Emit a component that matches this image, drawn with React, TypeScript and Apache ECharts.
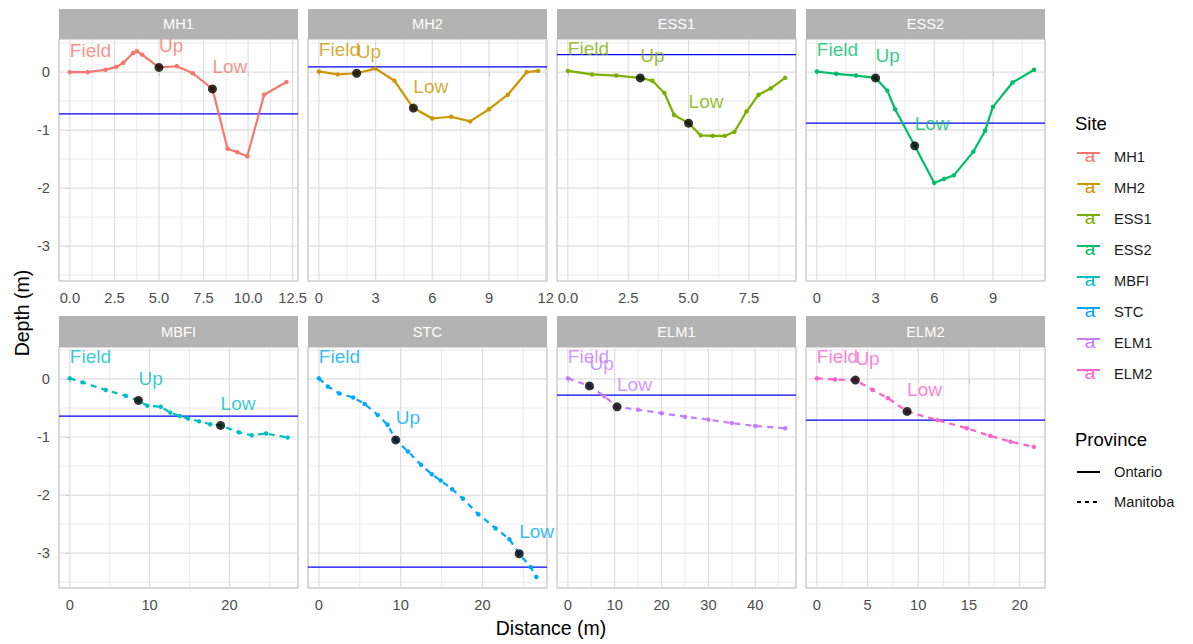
import React, { useEffect, useRef } from "react";
import * as echarts from "echarts";

const sites = ["MH1", "MH2", "ESS1", "ESS2", "MBFI", "STC", "ELM1", "ELM2"];
const province = ["Ontario", "Ontario", "Ontario", "Ontario", "Manitoba", "Manitoba", "Manitoba", "Manitoba"];
const provinces = ["Ontario", "Manitoba"];
const colors = ["#F8766D", "#CD9600", "#7CAE00", "#00BE67", "#00BFC4", "#00A9FF", "#C77CFF", "#FF61CC"];

const distMH1 = [0, 1, 2, 2.6, 3, 3.55, 3.75, 4.05, 5, 6, 6.9, 8, 8.85, 9.4, 9.95, 10.9, 12.15];
const depthMH1 = [0, 0, 0.04, 0.09, 0.16, 0.33, 0.36, 0.3, 0.08, 0.1, -0.02, -0.29, -1.32, -1.38, -1.45, -0.39, -0.17];
const distMH2 = [0, 1, 2, 3, 4, 5, 6, 7, 8, 9, 10, 11, 11.6];
const depthMH2 = [0.01, -0.04, -0.02, 0.06, -0.15, -0.62, -0.8, -0.77, -0.85, -0.64, -0.39, 0.0, 0.02];
const distESS1 = [0, 1, 2, 3, 3.5, 4, 4.4, 5, 5.5, 6, 6.5, 6.9, 7.4, 7.9, 8.4, 9];
const depthESS1 = [0.02, -0.04, -0.06, -0.1, -0.15, -0.36, -0.74, -0.88, -1.09, -1.1, -1.1, -1.03, -0.68, -0.39, -0.28, -0.1];
const distESS2 = [0, 1, 2, 3, 3.6, 4, 5, 6, 6.5, 7, 8, 8.6, 9, 10, 11.1];
const depthESS2 = [0.01, -0.03, -0.06, -0.1, -0.32, -0.64, -1.27, -1.91, -1.84, -1.78, -1.37, -1.01, -0.6, -0.18, 0.04];
const distMBFI = [0, 1.6, 4.5, 7, 8.6, 9.7, 11.4, 12.6, 13.8, 14.8, 16.2, 17.6, 18.9, 21.2, 22.8, 24.6, 27.3];
const depthMBFI = [0.01, -0.06, -0.19, -0.29, -0.37, -0.46, -0.48, -0.58, -0.64, -0.68, -0.73, -0.78, -0.8, -0.92, -0.97, -0.94, -1.01];
const distSTC = [0, 1.1, 2.5, 4.2, 5.6, 7.2, 8.4, 9.4, 10.9, 12.5, 13.8, 14.9, 16.3, 17.6, 19.5, 21.6, 23.3, 24.5, 25.9, 26.6];
const depthSTC = [0.01, -0.13, -0.25, -0.32, -0.43, -0.62, -0.79, -1.05, -1.25, -1.48, -1.64, -1.75, -1.9, -2.06, -2.33, -2.57, -2.76, -3.01, -3.24, -3.41];
const distELM1 = [0, 4.6, 7.8, 10.5, 15, 20, 25, 30, 35, 40, 46.4];
const depthELM1 = [0.01, -0.12, -0.3, -0.48, -0.53, -0.59, -0.65, -0.7, -0.76, -0.81, -0.85];
const distELM2 = [0, 1.8, 3.8, 5.5, 7, 8.9, 11.9, 14.8, 17.1, 19.1, 21.4];
const depthELM2 = [0.01, -0.01, -0.02, -0.19, -0.33, -0.56, -0.71, -0.85, -0.98, -1.08, -1.17];

const dists = [distMH1, distMH2, distESS1, distESS2, distMBFI, distSTC, distELM1, distELM2];
const depths = [depthMH1, depthMH2, depthESS1, depthESS2, depthMBFI, depthSTC, depthELM1, depthELM2];

const waterLevel = [-0.72, 0.09, 0.3, -0.88, -0.64, -3.24, -0.28, -0.71];
const upDist = [5, 2, 3, 3, 8.6, 9.4, 4.6, 3.8];
const upDepth = [0.08, -0.02, -0.1, -0.1, -0.37, -1.05, -0.12, -0.02];
const lowDist = [8, 5, 5, 5, 18.9, 24.5, 10.5, 8.9];
const lowDepth = [-0.29, -0.62, -0.88, -1.27, -0.8, -3.01, -0.48, -0.56];
const pointNames = ["Field", "Up", "Low"];

const xMin = [-0.61, -0.575, -0.45, -0.555, -1.36, -1.33, -2.32, -1.07];
const xMax = [12.8, 12.07, 9.45, 11.66, 28.6, 27.9, 48.7, 22.5];
const xMajor = [
  [0, 2.5, 5, 7.5, 10, 12.5],
  [0, 3, 6, 9, 12],
  [0, 2.5, 5, 7.5],
  [0, 3, 6, 9],
  [0, 10, 20],
  [0, 10, 20],
  [0, 10, 20, 30, 40],
  [0, 5, 10, 15, 20],
];
const xMinor = [
  [1.25, 3.75, 6.25, 8.75, 11.25],
  [1.5, 4.5, 7.5, 10.5],
  [1.25, 3.75, 6.25, 8.75],
  [1.5, 4.5, 7.5, 10.5],
  [5, 15, 25],
  [5, 15, 25],
  [5, 15, 25, 35, 45],
  [2.5, 7.5, 12.5, 17.5],
];
const xDecimals = [1, 0, 1, 0, 0, 0, 0, 0];
const yMajor = [0, -1, -2, -3];
const yMinor = [0.5, -0.5, -1.5, -2.5, -3.5];
const yMin = -3.6;
const yMaxRow = [0.57, 0.55];

const FONT = "'Liberation Sans', Arial, Helvetica, sans-serif";
const colLeft = [59, 308, 557, 806];
const panelW = 239;
const rowTop = [39, 347];
const rowH = [242, 241];
const stripTop = [9, 316];
const stripH = [30, 31];

function gridSegments(xs: number[], ys: number[], x0: number, x1: number, y0: number, y1: number) {
  const out: any[] = [];
  xs.forEach((x) => {
    out.push([x, y0], [x, y1], ["-", "-"]);
  });
  ys.forEach((y) => {
    out.push([x0, y], [x1, y], ["-", "-"]);
  });
  return out;
}

export default function App() {
  const ref = useRef<HTMLDivElement>(null);
  useEffect(() => {
    if (!ref.current) return;
    const chart = echarts.init(ref.current, null, { renderer: "svg" });
    const grids: any[] = [];
    const xAxes: any[] = [];
    const yAxes: any[] = [];
    const series: any[] = [];
    const graphics: any[] = [];

    sites.forEach((site, i) => {
      const row = Math.floor(i / 4);
      const col = i % 4;
      const yMax = yMaxRow[row];
      grids.push({
        left: colLeft[col],
        top: rowTop[row],
        width: panelW,
        height: rowH[row],
        show: true,
        backgroundColor: "#FFFFFF",
        borderColor: "#B3B3B3",
        borderWidth: 1,
        containLabel: false,
      });
      const dec = xDecimals[i];
      xAxes.push({
        type: "value",
        gridIndex: i,
        min: xMin[i],
        max: xMax[i],
        axisLine: { show: false },
        axisTick: { show: true, length: 4, customValues: xMajor[i], lineStyle: { color: "#B3B3B3" } },
        axisLabel: {
          customValues: xMajor[i],
          formatter: (v: number) => v.toFixed(dec),
          color: "#4D4D4D",
          fontSize: 14.7,
          fontFamily: FONT,
          margin: 9,
        },
        splitLine: { show: false },
      });
      yAxes.push({
        type: "value",
        gridIndex: i,
        min: yMin,
        max: yMax,
        axisLine: { show: false },
        axisTick: { show: col === 0, length: 4, customValues: yMajor, lineStyle: { color: "#B3B3B3" } },
        axisLabel: {
          show: col === 0,
          customValues: yMajor,
          formatter: (v: number) => String(v),
          color: "#4D4D4D",
          fontSize: 14.7,
          fontFamily: FONT,
          margin: 9,
        },
        splitLine: { show: false },
      });

      const common = {
        xAxisIndex: i,
        yAxisIndex: i,
        silent: true,
        symbol: "none",
        connectNulls: false,
        emphasis: { disabled: true },
      };
      series.push({
        ...common,
        type: "line",
        z: 1,
        lineStyle: { color: "#E4E4E4", width: 0.8 },
        data: gridSegments(xMinor[i], yMinor, xMin[i], xMax[i], yMin, yMax),
      });
      series.push({
        ...common,
        type: "line",
        z: 1,
        lineStyle: { color: "#DEDEDE", width: 1.2 },
        data: gridSegments(xMajor[i], yMajor, xMin[i], xMax[i], yMin, yMax),
      });
      series.push({
        ...common,
        type: "line",
        z: 2,
        lineStyle: { color: "#0000FF", width: 1.2 },
        data: [
          [xMin[i], waterLevel[i]],
          [xMax[i], waterLevel[i]],
        ],
      });

      const isDashed = province[i] === "Manitoba";
      series.push({
        type: "line",
        name: site,
        xAxisIndex: i,
        yAxisIndex: i,
        data: dists[i].map((d, k) => [d, depths[i][k]]),
        z: 3,
        symbol: "circle",
        symbolSize: 4.5,
        showSymbol: true,
        silent: true,
        emphasis: { disabled: true },
        itemStyle: { color: colors[i] },
        lineStyle: { color: colors[i], width: 2.2, type: isDashed ? [6, 5] : "solid" },
      });

      series.push({
        type: "scatter",
        xAxisIndex: i,
        yAxisIndex: i,
        z: 4,
        symbolSize: 9,
        silent: true,
        emphasis: { disabled: true },
        itemStyle: { color: "#000000" },
        data: [
          [upDist[i], upDepth[i]],
          [lowDist[i], lowDepth[i]],
        ],
      });

      series.push({
        type: "scatter",
        xAxisIndex: i,
        yAxisIndex: i,
        z: 5,
        symbolSize: 0,
        silent: true,
        emphasis: { disabled: true },
        itemStyle: { color: "rgba(0,0,0,0)" },
        label: {
          show: true,
          position: [0, -22],
          align: "left",
          verticalAlign: "middle",
          formatter: (p: any) => p.data[2],
          color: colors[i],
          fontSize: 19,
          fontFamily: FONT,
        },
        data: [
          [dists[i][0], depths[i][0], pointNames[0]],
          [upDist[i], upDepth[i], pointNames[1]],
          [lowDist[i], lowDepth[i], pointNames[2]],
        ],
      });

      graphics.push({
        type: "rect",
        shape: { x: colLeft[col], y: stripTop[row], width: panelW, height: stripH[row] },
        style: { fill: "#B3B3B3" },
        silent: true,
      });
      graphics.push({
        type: "text",
        x: colLeft[col] + panelW / 2,
        y: stripTop[row] + stripH[row] / 2,
        style: {
          text: site,
          fill: "#FFFFFF",
          fontSize: 14.7,
          fontFamily: FONT,
          align: "center",
          verticalAlign: "middle",
        },
        silent: true,
      });
    });

    // axis titles
    graphics.push({
      type: "text",
      x: 551,
      y: 628,
      style: { text: "Distance (m)", fill: "#000000", fontSize: 19.5, fontFamily: FONT, align: "center", verticalAlign: "middle" },
    });
    graphics.push({
      type: "text",
      x: 22,
      y: 313,
      rotation: Math.PI / 2,
      style: { text: "Depth (m)", fill: "#000000", fontSize: 19.5, fontFamily: FONT, align: "center", verticalAlign: "middle" },
    });

    // legend: Site
    graphics.push({
      type: "text",
      x: 1075,
      y: 123,
      style: { text: "Site", fill: "#000000", fontSize: 18.5, fontFamily: FONT, align: "left", verticalAlign: "middle" },
    });
    sites.forEach((site, i) => {
      const y = 157 + i * 31;
      graphics.push({
        type: "text",
        x: 1090,
        y: y - 1.5,
        style: { text: "a", fill: colors[i], fontSize: 19, fontFamily: FONT, align: "center", verticalAlign: "middle" },
      });
      graphics.push({
        type: "line",
        shape: { x1: 1077, y1: y - 4, x2: 1100, y2: y - 4 },
        style: { stroke: colors[i], lineWidth: 2 },
      });
      graphics.push({
        type: "text",
        x: 1114,
        y: y,
        style: { text: site, fill: "#1A1A1A", fontSize: 14.7, fontFamily: FONT, align: "left", verticalAlign: "middle" },
      });
    });
    // legend: Province
    graphics.push({
      type: "text",
      x: 1075,
      y: 439,
      style: { text: "Province", fill: "#000000", fontSize: 18.5, fontFamily: FONT, align: "left", verticalAlign: "middle" },
    });
    provinces.forEach((p, k) => {
      const y = 472 + k * 30;
      graphics.push({
        type: "line",
        shape: { x1: 1077, y1: y, x2: 1100, y2: y },
        style: { stroke: "#000000", lineWidth: 2, lineDash: k === 1 ? [4, 4] : null },
      });
      graphics.push({
        type: "text",
        x: 1114,
        y: y,
        style: { text: p, fill: "#1A1A1A", fontSize: 14.7, fontFamily: FONT, align: "left", verticalAlign: "middle" },
      });
    });

    chart.setOption({
      animation: false,
      backgroundColor: "#FFFFFF",
      grid: grids,
      xAxis: xAxes,
      yAxis: yAxes,
      series,
      graphic: graphics,
    });
    return () => chart.dispose();
  }, []);
  return (
    <div
      ref={ref}
      style={{ position: "fixed", left: 0, top: 0, width: 1193, height: 644, background: "#FFFFFF" }}
    />
  );
}
